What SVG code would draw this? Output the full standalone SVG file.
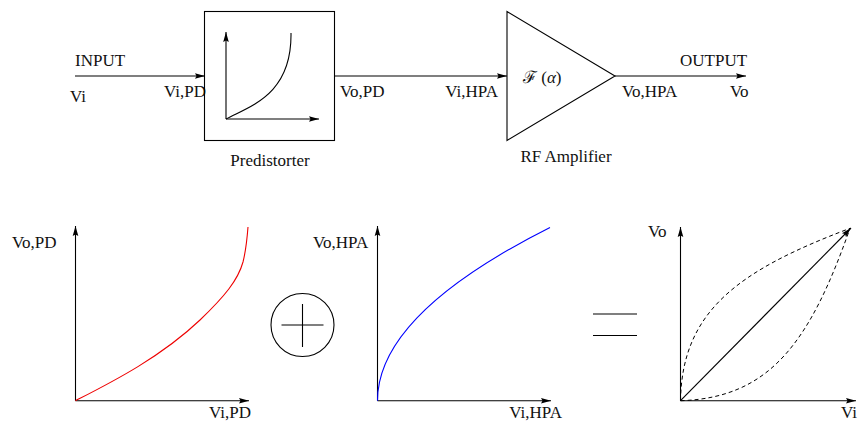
<svg xmlns="http://www.w3.org/2000/svg" width="859" height="423" viewBox="0 0 859 423">
<style>
text{font-family:"Liberation Serif","Times New Roman",serif;font-size:17px;fill:#111;font-variant-ligatures:none}
.ln{stroke:#000;stroke-width:1.1;fill:none}
.ax{stroke:#000;stroke-width:1.1;fill:none;marker-end:url(#ah)}
.dash{stroke:#000;stroke-width:1;fill:none;stroke-dasharray:4 3}
</style>
<defs>
<marker id="ah" markerUnits="userSpaceOnUse" markerWidth="10" markerHeight="6" refX="10" refY="3" orient="auto" overflow="visible">
<path d="M0,0.2 L10,3 L0,5.8 L1.5,3 z" fill="#000"/>
</marker>
</defs>
<rect width="859" height="423" fill="#fff"/>

<g id="connectors">
<line class="ax" x1="75" y1="76" x2="205" y2="76"/>
<line class="ax" x1="334.5" y1="76" x2="507" y2="76"/>
<line class="ax" x1="615" y1="76" x2="746" y2="76"/>
</g>

<g id="input-labels">
<text x="75" y="66">INPUT</text>
<text x="70" y="102">Vi</text>
<text x="206" y="97" text-anchor="end">Vi,PD</text>
</g>

<g id="predistorter">
<rect x="204.5" y="11.5" width="130" height="129" class="ln"/>
<line class="ax" x1="226" y1="119" x2="226" y2="32"/>
<line class="ax" x1="226" y1="119" x2="319" y2="119"/>
<path class="ln" d="M226,119 C250,106 292,95 291,33"/>
<text x="270" y="166" text-anchor="middle">Predistorter</text>
</g>

<g id="mid-labels">
<text x="340" y="97">Vo,PD</text>
<text x="498" y="97" text-anchor="end">Vi,HPA</text>
</g>

<g id="amplifier">
<path class="ln" d="M507,11.5 L615,76 L507,140.5 z"/>
<text x="523" y="83">ℱ (<tspan font-style="italic">α</tspan>)</text>
<text x="566" y="162" text-anchor="middle">RF Amplifier</text>
</g>

<g id="output-labels">
<text x="622" y="97">Vo,HPA</text>
<text x="680" y="66">OUTPUT</text>
<text x="730" y="97">Vo</text>
</g>

<g id="plot-pd">
<line class="ax" x1="75.5" y1="400.7" x2="75.5" y2="226"/>
<line class="ax" x1="75.5" y1="400.7" x2="249" y2="400.7"/>
<path d="M75.5,400.7 C110,383 160,358 200,320 C225,296 238,280 243,262 C246,250 247,240 248,227" fill="none" stroke="#e00" stroke-width="1.1"/>
<text x="12" y="248">Vo,PD</text>
<text x="251" y="418" text-anchor="end">Vi,PD</text>
</g>

<g id="plus">
<circle cx="302.5" cy="325" r="31.5" class="ln"/>
<line class="ln" x1="281.5" y1="325" x2="323.5" y2="325"/>
<line class="ln" x1="302.5" y1="304" x2="302.5" y2="347"/>
</g>

<g id="plot-hpa">
<line class="ax" x1="377.5" y1="400.7" x2="377.5" y2="226"/>
<line class="ax" x1="377.5" y1="400.7" x2="551" y2="400.7"/>
<path d="M377.5,400.7 Q377.5,314.2 550,227.5" fill="none" stroke="#00f" stroke-width="1.1"/>
<text x="313" y="248">Vo,HPA</text>
<text x="562" y="418" text-anchor="end">Vi,HPA</text>
</g>

<g id="equals">
<line class="ln" x1="593" y1="314" x2="637" y2="314"/>
<line class="ln" x1="593" y1="335.5" x2="637" y2="335.5"/>
</g>

<g id="plot-result">
<line class="ax" x1="680.5" y1="400.7" x2="680.5" y2="227"/>
<line class="ax" x1="680.5" y1="400.7" x2="856" y2="400.7"/>
<line class="ln" x1="680.5" y1="400.7" x2="851" y2="228" marker-end="url(#ah)"/>
<path class="dash" d="M680.5,400.7 C682,310 740,270 850,228.3"/>
<path class="dash" d="M680.5,400.7 C770,398 810,342 850,228.3"/>
<text x="648" y="237">Vo</text>
<text x="841" y="418">Vi</text>
</g>
</svg>
